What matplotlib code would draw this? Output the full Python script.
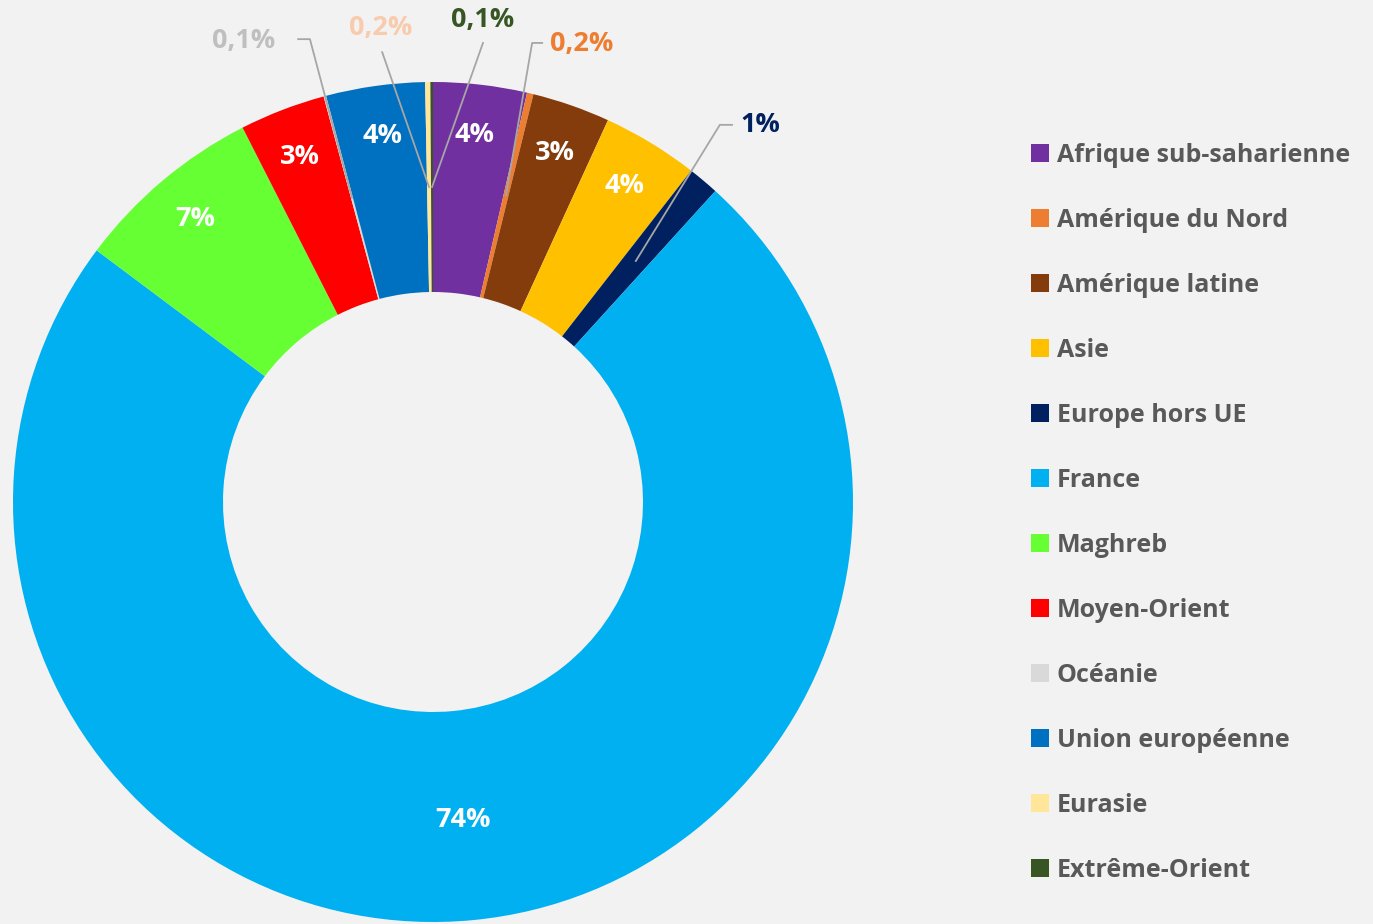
import numpy as np
import matplotlib
matplotlib.use('Agg')
import matplotlib.pyplot as plt

regions = ['Afrique sub-saharienne', 'Amérique du Nord', 'Amérique latine', 'Asie',
           'Europe hors UE', 'France', 'Maghreb', 'Moyen-Orient', 'Océanie',
           'Union européenne', 'Eurasie', 'Extrême-Orient']
shares = [3.6, 0.25, 3.0, 3.7, 1.2, 73.6, 7.3, 3.3, 0.1, 3.8, 0.2, 0.1]
share_labels = ['4%', '0,2%', '3%', '4%', '1%', '74%', '7%', '3%', '0,1%', '4%', '0,2%', '0,1%']
colors = ['#7030a0', '#ed7d31', '#843c0c', '#ffc000', '#002060', '#00b0f0',
          '#66ff33', '#ff0000', '#d9d9d9', '#0070c0', '#ffe699', '#375623']

# etiquettes a l'exterieur (avec trait de rappel)
outside_color = {'Amérique du Nord': '#ed7d31', 'Europe hors UE': '#002060',
                 'Océanie': '#bfbfbf', 'Eurasie': '#f8cbad', 'Extrême-Orient': '#375623'}
# position du texte, puis points du trait (coordonnees du graphique)
outside_pos = {
    'Océanie': ((-0.452, 1.098), [(-0.321, 1.102), (-0.293, 1.102)]),
    'Eurasie': ((-0.124, 1.129), [(-0.121, 1.071)]),
    'Extrême-Orient': ((0.119, 1.148), [(0.119, 1.093)]),
    'Amérique du Nord': ((0.355, 1.090), [(0.260, 1.093), (0.236, 1.093)]),
    'Europe hors UE': ((0.779, 0.898), [(0.712, 0.898), (0.683, 0.898)]),
}

plt.rcParams['font.family'] = ['Open Sans', 'DejaVu Sans']

fig = plt.figure(figsize=(13.73, 9.24), dpi=100, facecolor='#f2f2f2')
ax = fig.add_axes([13 / 1373, 2 / 924, 840 / 1373, 840 / 924])
ax.set_facecolor('#f2f2f2')

wedges, _ = ax.pie(shares, colors=colors, startangle=90, counterclock=False,
                   radius=1, wedgeprops=dict(width=0.5, linewidth=0))
ax.set_xlim(-1, 1)
ax.set_ylim(-1, 1)
ax.set_aspect('equal')
ax.axis('off')

for w, name, lab in zip(wedges, regions, share_labels):
    mid = np.deg2rad((w.theta1 + w.theta2) / 2)
    if name in outside_pos:
        (tx, ty), pts = outside_pos[name]
        end = (0.75 * np.cos(mid), 0.75 * np.sin(mid))
        line = pts + [end]
        ax.plot([p[0] for p in line], [p[1] for p in line], color='#a6a6a6',
                lw=1.3, clip_on=False)
        ax.text(tx, ty, lab, ha='center', va='center', fontsize=19.5,
                fontweight='bold', color=outside_color[name], clip_on=False)
    else:
        r = 0.76 if name == 'France' else 0.88
        ax.text(r * np.cos(mid), r * np.sin(mid), lab, ha='center', va='center',
                fontsize=19.5, fontweight='bold', color='white')

leg = fig.legend(wedges, regions, loc='upper left', bbox_to_anchor=(1031 / 1373, 1 - 143 / 924),
                 frameon=False, handlelength=0.72, handleheight=0.72,
                 handletextpad=0.32, labelspacing=1.6, borderpad=0, borderaxespad=0,
                 prop=dict(weight='bold', size=18))
for t in leg.get_texts():
    t.set_color('#595959')

fig.savefig('out.png', dpi=100, facecolor=fig.get_facecolor())
